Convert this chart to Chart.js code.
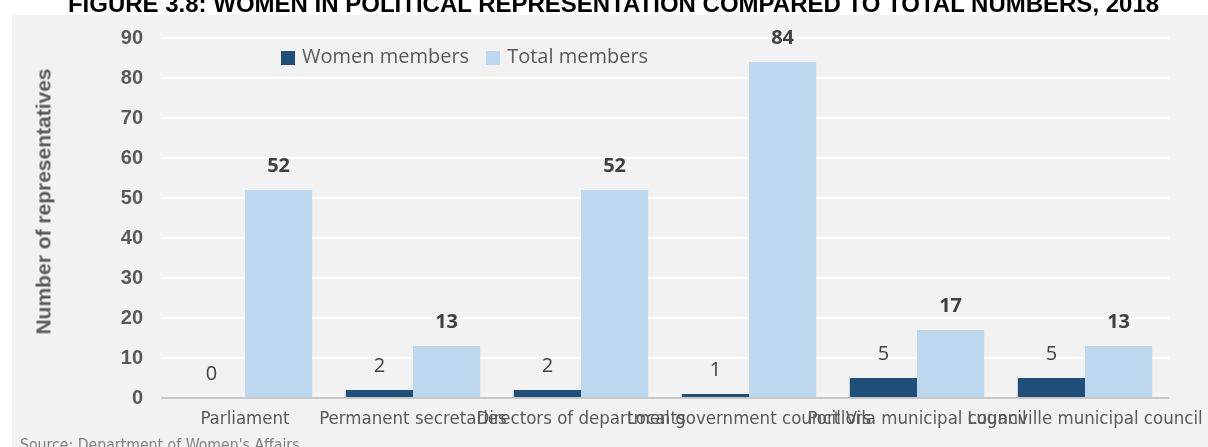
<!DOCTYPE html>
<html>
<head>
<meta charset="utf-8">
<title>Women in political representation, 2018</title>
<script src="https://cdn.jsdelivr.net/npm/chart.js@4.4.1/dist/chart.umd.min.js"></script>
<style>
  html, body { margin: 0; padding: 0; background: #ffffff; }
  body { position: relative; width: 1208px; height: 447px; overflow: hidden; }
  #panel { position: absolute; left: 12px; top: 15px; width: 1196px; height: 432px; background: #f2f2f2; }
  #chartBox { position: absolute; left: 0; top: 0; width: 1196px; height: 432px; }
  #title {
    position: absolute; left: 0; top: -7.6px; width: 1227px; text-align: center;
    font: bold 24px/24px "Liberation Sans", Arial, sans-serif; color: #000000;
    white-space: nowrap; z-index: 2;
  }
  #yTitle {
    position: absolute; width: 320px; left: -117.25px; top: 190.5px; text-align: center;
    font: bold 21px/21px "Liberation Sans", Arial, sans-serif; color: #595959;
    transform: rotate(-90deg); white-space: nowrap; z-index: 2;
  }
  #legend {
    position: absolute; left: 281px; top: 45.7px; display: flex; z-index: 2;
    font: 20px/20px "Open Sans", sans-serif; color: #595959; white-space: nowrap;
  }
  #legend .item { display: flex; align-items: flex-start; margin-right: 17px; }
  #legend .swatch { width: 14px; height: 14px; margin-top: 5.3px; margin-right: 7px; }
  #source {
    position: absolute; left: 20px; top: 437px;
    font: 15.7px/16px "DejaVu Sans Condensed", "DejaVu Sans", sans-serif; color: #808080;
    white-space: nowrap; z-index: 2;
  }
</style>
</head>
<body>
<div id="title">FIGURE 3.8: WOMEN IN POLITICAL REPRESENTATION COMPARED TO TOTAL NUMBERS, 2018</div>
<div id="panel"><div id="chartBox"><canvas id="chart"></canvas></div></div>
<div id="yTitle">Number of representatives</div>
<div id="legend"></div>
<div id="source">Source: Department of Women's Affairs</div>
<script>
// Bodies compared
const categories = [
  'Parliament',
  'Permanent secretaries',
  'Directors of departments',
  'Local government councillors',
  'Port Vila municipal council',
  'Luganville municipal council'
];
// Members per body
const womenMembers = [0, 2, 2, 1, 5, 5];
const totalMembers = [52, 13, 52, 84, 17, 13];
const seriesNames = ['Women members', 'Total members'];
const seriesColors = ['#1f4e79', '#bdd7ee'];
// Value axis
const yTicks = [0, 10, 20, 30, 40, 50, 60, 70, 80, 90];

const yMin = yTicks[0];
const yMax = yTicks[yTicks.length - 1];
const yStep = yTicks[1] - yTicks[0];

// Value labels above each bar: plain for women, bold for totals
const barValueLabels = {
  id: 'barValueLabels',
  afterDatasetsDraw(chart) {
    const ctx = chart.ctx;
    ctx.save();
    ctx.fillStyle = '#404040';
    ctx.textAlign = 'center';
    ctx.textBaseline = 'alphabetic';
    chart.data.datasets.forEach((ds, i) => {
      const meta = chart.getDatasetMeta(i);
      ctx.font = (i === 1 ? 'bold ' : '') + '20px "Open Sans", sans-serif';
      meta.data.forEach((bar, j) => {
        ctx.fillText(String(ds.data[j]), bar.x, bar.y - 18);
      });
    });
    ctx.restore();
  }
};

const chart = new Chart(document.getElementById('chart'), {
  type: 'bar',
  data: {
    labels: categories,
    datasets: [
      { label: seriesNames[0], data: womenMembers, backgroundColor: seriesColors[0], borderWidth: 0,
        categoryPercentage: 0.8, barPercentage: 1.0 },
      { label: seriesNames[1], data: totalMembers, backgroundColor: seriesColors[1], borderWidth: 0,
        categoryPercentage: 0.8, barPercentage: 1.0 }
    ]
  },
  options: {
    responsive: true,
    maintainAspectRatio: false,
    animation: false,
    layout: { padding: { top: 23, right: 39, left: 0, bottom: 0 } },
    plugins: {
      legend: { display: false },
      tooltip: { enabled: false },
      title: { display: false }
    },
    scales: {
      x: {
        grid: { display: false, drawTicks: false },
        border: { display: false },
        ticks: {
          color: '#595959',
          font: { family: '"DejaVu Sans Condensed", "DejaVu Sans", sans-serif', size: 18.5 },
          maxRotation: 0, minRotation: 0, autoSkip: false, padding: 10
        },
        afterFit(s) { s.height = 49; s.paddingLeft = 0; s.paddingRight = 0; }
      },
      y: {
        min: yMin, max: yMax,
        grid: {
          drawTicks: false,
          lineWidth: 2,
          color: (c) => (c.tick && c.tick.value === yMin ? '#c8c8c8' : '#ffffff')
        },
        border: { display: false },
        ticks: {
          stepSize: yStep,
          color: '#595959',
          font: { family: '"Liberation Sans", Arial, sans-serif', size: 20, weight: 'bold' },
          padding: 18
        },
        afterFit(s) { s.width = 149; s.paddingTop = 0; s.paddingBottom = 0; }
      }
    }
  },
  plugins: [barValueLabels]
});

// Legend built from the series definitions
const legend = document.getElementById('legend');
chart.data.datasets.forEach((ds) => {
  const item = document.createElement('div');
  item.className = 'item';
  const sw = document.createElement('span');
  sw.className = 'swatch';
  sw.style.background = ds.backgroundColor;
  const tx = document.createElement('span');
  tx.textContent = ds.label;
  item.appendChild(sw);
  item.appendChild(tx);
  legend.appendChild(item);
});
</script>
</body>
</html>
